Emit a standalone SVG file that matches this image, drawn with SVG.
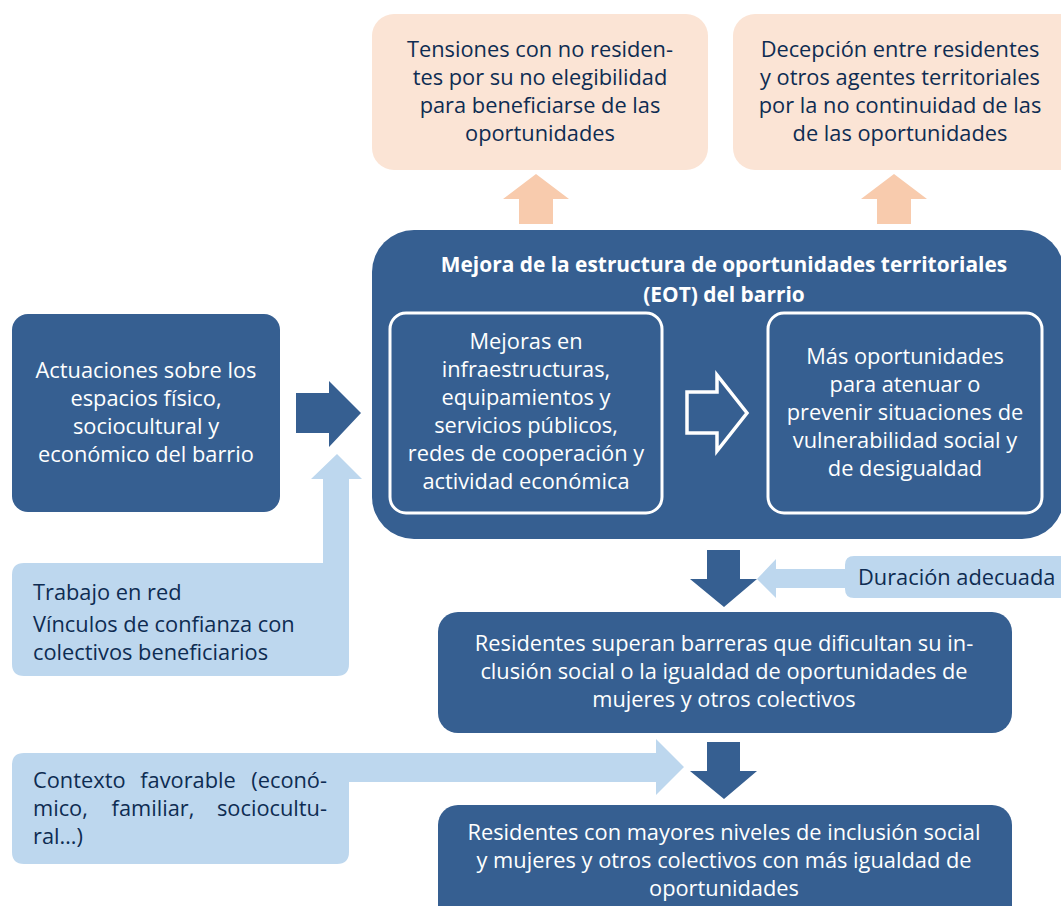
<svg xmlns="http://www.w3.org/2000/svg" width="1061" height="906" viewBox="0 0 1061 906">
<style>
.dark{fill:#365F91}
.light{fill:#BDD7EE}
.peach{fill:#FBE4D5}
.parrow{fill:#F8CBAD}
text{font-family:"Open Sans",Lato,"Liberation Sans",sans-serif;font-size:21.8px}
.w{fill:#FFFFFF}
.n{fill:#0E2C52}
.c{text-anchor:middle}
.m{text-anchor:middle}
.e{text-anchor:end}
.b{font-weight:bold;font-size:20.9px}
.inner{fill:none;stroke:#FFFFFF;stroke-width:3}
</style>
<rect width="1061" height="906" fill="#FFFFFF"/>

<g id="node-tensiones">
<rect class="peach" x="372" y="14" width="336" height="156" rx="22"/>
<text class="n c"><tspan x="540" y="57">Tensiones con no residen-</tspan><tspan x="540" y="85">tes por su no elegibilidad</tspan><tspan x="540" y="113">para beneficiarse de las</tspan><tspan x="540" y="141">oportunidades</tspan></text>
</g>

<g id="node-decepcion">
<rect class="peach" x="733" y="14" width="350" height="156" rx="22"/>
<text class="n c"><tspan x="900" y="57">Decepción entre residentes</tspan><tspan x="900" y="85">y otros agentes territoriales</tspan><tspan x="900" y="113">por la no continuidad de las</tspan><tspan x="900" y="141">de las oportunidades</tspan></text>
</g>

<g id="node-eot">
<rect class="dark" x="372" y="230" width="692" height="309" rx="42"/>
<text class="w c b"><tspan x="724" y="272">Mejora de la estructura de oportunidades territoriales</tspan><tspan x="724" y="302">(EOT) del barrio</tspan></text>
</g>

<g id="node-mejoras">
<rect class="inner" x="390" y="313" width="272" height="200" rx="16"/>
<text class="w c"><tspan x="526" y="349">Mejoras en</tspan><tspan x="526" y="377">infraestructuras,</tspan><tspan x="526" y="405">equipamientos y</tspan><tspan x="526" y="433">servicios públicos,</tspan><tspan x="526" y="461">redes de cooperación y</tspan><tspan x="526" y="489">actividad económica</tspan></text>
</g>

<g id="node-oportunidades">
<rect class="inner" x="768" y="313" width="274" height="200" rx="16"/>
<text class="w c"><tspan x="905" y="364">Más oportunidades</tspan><tspan x="905" y="392">para atenuar o</tspan><tspan x="905" y="420">prevenir situaciones de</tspan><tspan x="905" y="448">vulnerabilidad social y</tspan><tspan x="905" y="476">de desigualdad</tspan></text>
</g>

<g id="node-actuaciones">
<rect class="dark" x="12" y="314" width="268" height="198" rx="16"/>
<text class="w c"><tspan x="146" y="378">Actuaciones sobre los</tspan><tspan x="146" y="406">espacios físico,</tspan><tspan x="146" y="434">sociocultural y</tspan><tspan x="146" y="462">económico del barrio</tspan></text>
</g>

<g id="node-trabajo">
<path class="light" d="M323,479 L311,479 L337,454 L362,479 L349,479 L349,664 Q349,676 337,676 L24,676 Q12,676 12,664 L12,575 Q12,563 24,563 L323,563 Z"/>
<text class="n"><tspan x="33" y="600">Trabajo en red</tspan><tspan x="33" y="632">Vínculos de confianza con</tspan><tspan x="33" y="660">colectivos beneficiarios</tspan></text>
</g>

<g id="node-contexto">
<path class="light" d="M24,753 L656,753 L656,739 L684,767 L656,795 L656,782 L349,782 L349,852 Q349,864 337,864 L24,864 Q12,864 12,852 L12,765 Q12,753 24,753 Z"/>
<text class="n"><tspan x="33" y="788">Contexto</tspan><tspan class="m" x="188" y="788">favorable</tspan><tspan class="e" x="327" y="788">(econó-</tspan></text>
<text class="n"><tspan x="33" y="816">mico,</tspan><tspan class="m" x="153" y="816">familiar,</tspan><tspan class="e" x="327" y="816">sociocultu-</tspan></text>
<text class="n" x="33" y="844">ral…)</text>
</g>

<g id="node-duracion">
<path class="light" d="M757,579 L776,559 L776,569 L845,569 L845,565 Q845,556 854,556 L1061,556 L1061,598 L854,598 Q845,598 845,589 L845,588 L776,588 L776,598 Z"/>
<text class="n" x="858" y="585">Duración adecuada</text>
</g>

<g id="node-superan">
<rect class="dark" x="438" y="612" width="574" height="121" rx="20"/>
<text class="w c"><tspan x="724" y="651">Residentes superan barreras que dificultan su in-</tspan><tspan x="724" y="679">clusión social o la igualdad de oportunidades de</tspan><tspan x="724" y="707">mujeres y otros colectivos</tspan></text>
</g>

<g id="node-mayores">
<rect class="dark" x="438" y="805" width="574" height="140" rx="20"/>
<text class="w c"><tspan x="724" y="840">Residentes con mayores niveles de inclusión social</tspan><tspan x="724" y="868">y mujeres y otros colectivos con más igualdad de</tspan><tspan x="724" y="896">oportunidades</tspan></text>
</g>

<g id="connectors">
<path class="parrow" d="M519,224 L519,199 L503,199 L536,174 L569,199 L553,199 L553,224 Z"/>
<path class="parrow" d="M877,224 L877,199 L861,199 L894,174 L927,199 L911,199 L911,224 Z"/>
<path class="dark" d="M296,393 L329,393 L329,381 L361,413 L329,447 L329,433 L296,433 Z"/>
<path fill="none" stroke="#FFFFFF" stroke-width="3.5" d="M687,392 L717,392 L717,375 L747,413 L717,451 L717,433 L687,433 Z"/>
<path class="dark" d="M707,550 L740,550 L740,579 L757,579 L724,607 L690,579 L707,579 Z"/>
<path class="dark" d="M707,742 L740,742 L740,771 L757,771 L724,799 L690,771 L707,771 Z"/>
</g>
</svg>
